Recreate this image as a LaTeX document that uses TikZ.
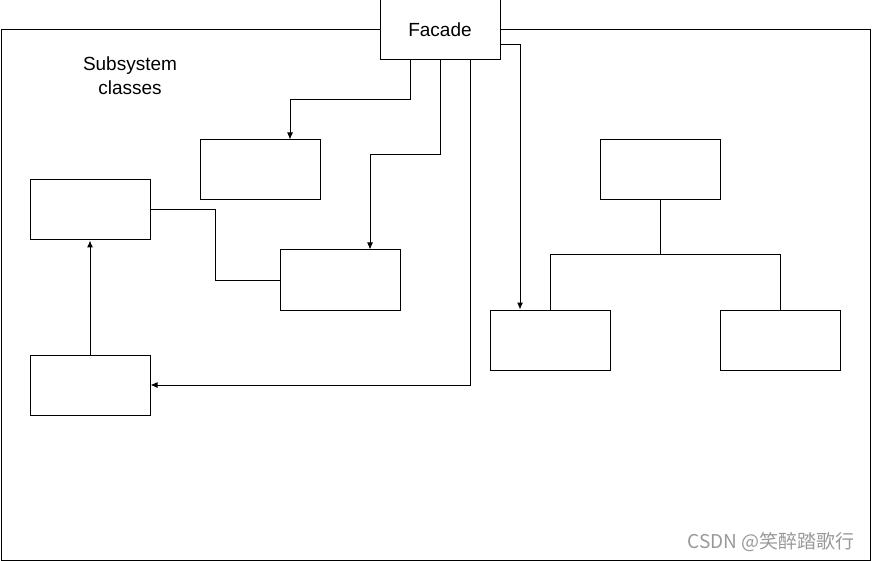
\documentclass[tikz,border=0pt]{standalone}
\usepackage{fontspec}
\setmainfont{Liberation Sans}
\newfontfamily\cjk{Noto Sans CJK SC}
\usetikzlibrary{positioning,calc,arrows.meta}

\begin{document}
\begin{tikzpicture}[x=1pt,y=-1pt,line width=1pt,
		font=\fontsize{19}{24}\selectfont,
		classbox/.style={draw, fill=white, minimum width=120pt, minimum height=60pt, inner sep=0pt},
		link/.style={-{Latex[length=7pt,width=6pt]}}]
		\useasboundingbox (0,0) rectangle (872,561);

		% subsystem frame
		\node[draw,
			minimum width=869pt,
			minimum height=530pt,
			inner sep=0pt
		] (frame) at (435.5,295) {};

		\node[align=center] (label) at (130,76) {Subsystem\\classes};

		\node[classbox] (facade) at (440,30) {Facade};

		% left part
		\node[classbox] (top) at (260,170) {};
		\node[classbox] (left) at (90,210) {};
		\node[classbox] (mid) at (340,280) {};
		\node[classbox] (low) at (90,385) {};

		% right part
		\node[classbox] (root) at (660,170) {};
		\node[classbox] (leafa) at (550,340) {};
		\node[classbox] (leafb) at (780,340) {};

		\coordinate (fa) at ($(facade.south)+(-30,0)$);
		\coordinate (fc) at ($(facade.south)+(30,0)$);
		\coordinate (fr) at ($(facade.east)+(0,15)$);
		\coordinate (ta) at ($(top.north)+(30,0)$);
		\coordinate (ma) at ($(mid.north)+(30,0)$);
		\coordinate (la) at ($(leafa.north)+(-30,0)$);

		\draw[link] (fa) -- (fa |- 0,100) -| (ta);
		\draw[link] (facade.south) -- (facade.south |- 0,155) -| (ma);
		\draw[link] (fc) |- (low.east);
		\draw[link] (fr) -| (la);
		\draw (left.east) -- (215,210) |- (mid.west);
		\draw[link] (low.north) -- (left.south);
		\draw (root.south) -- (660,255) -| (leafa.north);
		\draw (660,255) -| (leafb.north);

		\node[text=black!40, font=\cjk\fontsize{19}{24}\selectfont] (mark) at (771,542) {CSDN @笑醉踏歌行};
	\end{tikzpicture}
\end{document}
